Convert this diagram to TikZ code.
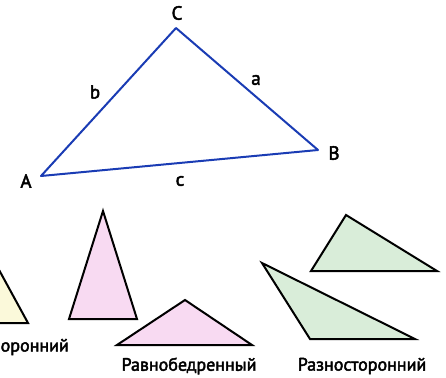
\documentclass[tikz,border=0pt]{standalone}
\usepackage{fontspec}
\setmainfont{PT Sans}
\newfontfamily\semib[FakeBold=2.5]{PT Sans}
\begin{document}
\begin{tikzpicture}[x=1pt,y=-1pt,
  tri/.style={draw=black,line width=2pt,line join=miter},
  mainedge/.style={draw=mainblue,line width=2pt,line join=round},
  lbl/.style={inner sep=0pt,font=\semib\fontsize{19}{21}\selectfont},
  captext/.style={inner sep=0pt,font=\semib\fontsize{18}{21}\selectfont}]
\definecolor{mainblue}{HTML}{1A3CB4}
\definecolor{pinkfill}{HTML}{F8DAF2}
\definecolor{greenfill}{HTML}{D9EDD9}
\definecolor{yellowfill}{HTML}{FBF9DA}
\useasboundingbox (0,0) rectangle (446,377);
\clip (0,0) rectangle (446,377);
% main triangle
\coordinate (A) at (41,176);
\coordinate (B) at (318,150);
\coordinate (C) at (176,28);
\draw[mainedge] (A) -- (B) -- (C) -- cycle;
\node[lbl] (lC) at (177,13) {C};
\node[lbl] (lA) at (26,181) {A};
\node[lbl] (lB) at (334,153) {B};
\node[lbl] (la) at (256,80) {a};
\node[lbl] (lb) at (95,92) {b};
\node[lbl] (lc) at (180,181) {c};
% yellow (partial)
\coordinate (y1) at (-14,246);
\coordinate (y2) at (28,323);
\coordinate (y3) at (-30,323);
\filldraw[tri,fill=yellowfill] (y1) -- (y2) -- (y3) -- cycle;
\node[captext,anchor=east] (t1) at (69,347) {оронний};
% pink tall
\coordinate (p1) at (103,211);
\coordinate (p2) at (137,319);
\coordinate (p3) at (69,319);
\filldraw[tri,fill=pinkfill] (p1) -- (p2) -- (p3) -- cycle;
% pink flat
\coordinate (q1) at (185,300);
\coordinate (q2) at (252,345);
\coordinate (q3) at (117,345);
\filldraw[tri,fill=pinkfill] (q1) -- (q2) -- (q3) -- cycle;
\node[captext] (t2) at (189,366) {Равнобедренный};
% green upper
\coordinate (g1) at (346,215);
\coordinate (g2) at (437,271);
\coordinate (g3) at (311,271);
\filldraw[tri,fill=greenfill] (g1) -- (g2) -- (g3) -- cycle;
% green lower
\coordinate (h1) at (262,263);
\coordinate (h2) at (415,339);
\coordinate (h3) at (310,339);
\filldraw[tri,fill=greenfill] (h1) -- (h2) -- (h3) -- cycle;
\node[captext] (t3) at (362,366) {Разносторонний};
\end{tikzpicture}
\end{document}
